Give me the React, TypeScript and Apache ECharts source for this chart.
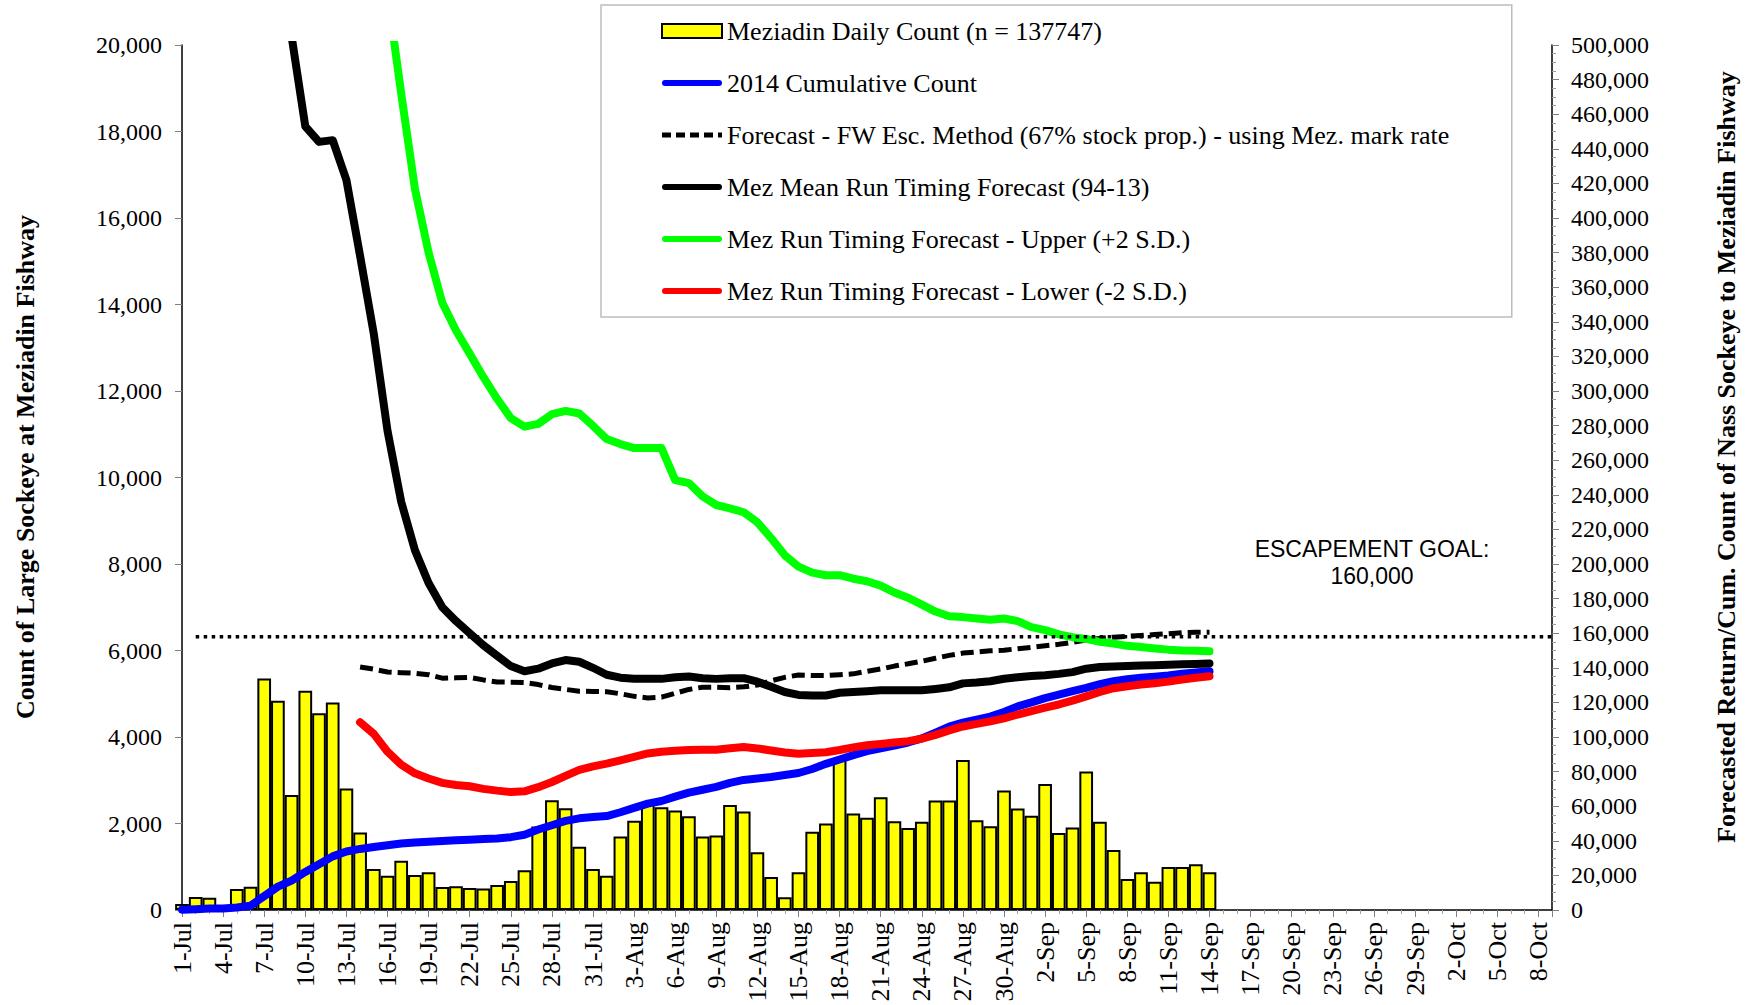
import React, { useEffect, useRef } from "react";
import * as echarts from "echarts";

// ---- x axis tick labels (every 3 days from 1-Jul; day index 0 = 1-Jul) ----
const tickLabels = [
  "1-Jul", "4-Jul", "7-Jul", "10-Jul", "13-Jul", "16-Jul", "19-Jul", "22-Jul", "25-Jul", "28-Jul", "31-Jul",
  "3-Aug", "6-Aug", "9-Aug", "12-Aug", "15-Aug", "18-Aug", "21-Aug", "24-Aug", "27-Aug", "30-Aug",
  "2-Sep", "5-Sep", "8-Sep", "11-Sep", "14-Sep", "17-Sep", "20-Sep", "23-Sep", "26-Sep", "29-Sep",
  "2-Oct", "5-Oct", "8-Oct",
];

// ---- Meziadin daily count, 1-Jul .. 14-Sep (left axis) ----
const dailyCount = [
  // Jul 1-31
  140, 300, 285, 115, 485, 540, 5350, 4840, 2660, 5070, 4550, 4800, 2810, 1790, 950, 790, 1140, 810, 870, 530,
  550, 510, 500, 580, 670, 920, 1930, 2540, 2350, 1460, 950,
  // Aug 1-31
  790, 1700, 2065, 2450, 2375, 2300, 2165, 1700, 1720, 2430, 2280, 1335, 765, 295, 870, 1810, 2000, 3485, 2230, 2135,
  2605, 2050, 1895, 2040, 2530, 2530, 3470, 2075, 1935, 2765, 2345,
  // Sep 1-14
  2180, 2915, 1780, 1910, 3205, 2040, 1385, 715, 870, 655, 995, 995, 1055, 870,
];

// ---- right-axis series, in thousands of fish ----
const cumulativeStart = 0; // 1-Jul
const cumulativeK = [
  0.2, 0.5, 0.8, 0.9, 1.4, 2.5, 8, 13.5, 17, 22, 26.5, 31, 33.8, 35.3, 36.4, 37.4, 38.4, 39, 39.5, 39.9,
  40.3, 40.6, 41, 41.3, 42.1, 43.5, 46.5, 49, 51.5, 53, 53.7,
  54.3, 56.5, 59, 61.5, 63, 65.5, 67.8, 69.5, 71.2, 73.5, 75.2, 76, 76.9, 78, 79.2, 81.5, 84.5, 87, 89.5, 91.8,
  93.5, 95, 96.8, 99.2, 102.5, 106, 108.3, 110, 111.8, 114.5, 117.7,
  120, 122.5, 124.5, 126.5, 128.4, 130.5, 132.3, 133.4, 134.2, 134.9, 135.6, 136.6, 137.3, 138,
];

const fwStart = 13; // 14-Jul
const fwForecastK = [
  140.5, 139.2, 137.6, 137.2, 136.8, 136, 134, 134.2, 134.5, 133,
  131.8, 131.7, 131.5, 130.3, 128.6, 127.5, 126.5, 126.3, 126.2, 125,
  123.5, 122.6, 123, 125.3, 127.5, 128.8, 128.7, 128.5, 129, 130,
  132.5, 134.5, 135.8, 135.5, 135.5, 136, 136.5, 138, 139.3, 141,
  142.3, 143.8, 145.5, 147.2, 148.5, 149.2, 149.8, 150.2, 151, 151.8,
  152.7, 153.6, 154.7, 156, 157, 157.7, 158.2, 158.7, 159.2, 159.7,
  160.3, 160.6, 160.6,
];

const meanStart = 8; // 9-Jul
const meanForecastK = [
  505, 453, 444, 445, 422, 378, 333, 277, 236, 208,
  189, 175, 167, 160, 153, 147, 141, 138, 139.5, 142.5,
  144.5, 143.5, 140, 136, 134.3, 133.7, 133.6, 133.6, 134.5, 135,
  134, 133.6, 134, 134, 132, 129, 126, 124.3, 124, 124,
  125.6, 126, 126.5, 127, 127, 127, 127, 127.8, 128.7, 131,
  131.5, 132.2, 133.7, 134.5, 135.2, 135.7, 136.5, 137.5, 139.5, 140.5,
  140.8, 141, 141.3, 141.5, 141.7, 142, 142.2, 142.5,
];

const upperStart = 15; // 16-Jul
const upperForecastK = [
  530, 472, 417, 380, 351, 335, 321.6, 308, 295.5, 284.3,
  279.4, 281, 286.6, 288.5, 287, 279.9, 272.2, 269.3, 267, 267,
  267, 248.5, 246.8, 239.1, 234.1, 232.2, 229.9, 224.1, 215, 205,
  198.5, 195, 193.5, 193.5, 191.5, 190, 187.5, 183.5, 180.5, 176.5,
  172.5, 169.8, 169.3, 168.5, 167.8, 168.5, 167, 163.5, 161.8, 159.3,
  157.7, 156.7, 155, 154, 152.7, 152, 151.2, 150.5, 150, 149.8, 149.5,
];

const lowerStart = 13; // 14-Jul
const lowerForecastK = [
  108.5, 101.8, 91.5, 84, 79, 76, 73.5, 72.3, 71.5, 70,
  69, 68.2, 68.6, 71, 74, 77.5, 81, 83, 84.6, 86.5,
  88.5, 90.5, 91.5, 92, 92.5, 92.6, 92.6, 93.5, 94.2, 93.4,
  92.2, 91, 90.3, 90.7, 91.2, 92.5, 94, 95.2, 96, 96.8,
  97.6, 99, 101.2, 103.8, 106.1, 107.6, 109, 110.8, 113, 115,
  117, 118.8, 121, 123.5, 126, 128.2, 129.3, 130.3, 131.1, 132,
  133.2, 134.2, 135.1,
];

// escapement goal line (as drawn) and the days it spans
const goalValue = 158000;
const goalDays = [1, 100];

const seriesNames = [
  "Meziadin Daily Count (n = 137747)",
  "2014 Cumulative Count",
  "Forecast - FW Esc. Method (67% stock prop.) - using Mez. mark rate",
  "Mez Mean Run Timing Forecast (94-13)",
  "Mez Run Timing Forecast - Upper (+2 S.D.)",
  "Mez Run Timing Forecast - Lower (-2 S.D.)",
];

const serif = "'Liberation Serif', 'Times New Roman', serif";
const sans = "'Liberation Sans', Arial, sans-serif";

// legend icons: a thick rounded stroke, and a dashed stroke
const solidIcon = "path://M3,0 H57 A3,3 0 0 1 57,6 H3 A3,3 0 0 1 3,0 Z";
const dashIcon =
  "path://M0,0.5 H9 V5.5 H0 Z M14,0.5 H23 V5.5 H14 Z M28,0.5 H37 V5.5 H28 Z M42,0.5 H51 V5.5 H42 Z M56,0.5 H60 V5.5 H56 Z";

function toPairs(start: number, arr: number[], scale: number) {
  return arr.map((v, i) => [start + i, v * scale]);
}

export default function App() {
  const ref = useRef<HTMLDivElement>(null);

  useEffect(() => {
    if (!ref.current) return;
    const chart = echarts.init(ref.current, null, { renderer: "svg" });

    const lineBase = (name: string, color: string, start: number, arr: number[], width: number, type: any, cap: string) => ({
      name,
      type: "line",
      xAxisIndex: 0,
      yAxisIndex: 1,
      data: toPairs(start, arr, 1000),
      symbol: "none",
      showSymbol: false,
      clip: true,
      emphasis: { disabled: true },
      lineStyle: { color: color, width: width, type: type, cap: cap, join: "round" },
      itemStyle: { color: color },
      z: 3,
    });

    chart.setOption({
      animation: false,
      backgroundColor: "#ffffff",
      textStyle: { fontFamily: serif },
      grid: { left: 182, right: 208, top: 45, bottom: 95, containLabel: false },
      xAxis: [
        {
          type: "value",
          min: 0,
          max: 100,
          interval: 3,
          axisLine: { show: true, onZero: false, lineStyle: { color: "#000", width: 1.5 } },
          axisTick: { show: true, length: 7, lineStyle: { color: "#808080", width: 1 } },
          minorTick: { show: true, splitNumber: 3, length: 4, lineStyle: { color: "#a0a0a0", width: 1 } },
          splitLine: { show: false },
          axisLabel: {
            rotate: 90,
            margin: 12,
            fontSize: 26,
            fontFamily: serif,
            color: "#000",
            formatter: (v: number) => (v % 3 === 0 && tickLabels[v / 3] ? tickLabels[v / 3] : ""),
          },
        },
      ],
      yAxis: [
        {
          type: "value",
          position: "left",
          min: 0,
          max: 20000,
          interval: 2000,
          axisLine: { show: true, lineStyle: { color: "#000", width: 1.5 } },
          axisTick: { show: true, length: 7, lineStyle: { color: "#808080", width: 1 } },
          splitLine: { show: false },
          axisLabel: {
            margin: 20,
            fontSize: 24,
            fontFamily: serif,
            color: "#000",
            formatter: (v: number) => v.toLocaleString("en-US"),
          },
        },
        {
          type: "value",
          position: "right",
          min: 0,
          max: 500000,
          interval: 20000,
          axisLine: { show: true, lineStyle: { color: "#000", width: 1.5 } },
          axisTick: { show: true, length: 7, lineStyle: { color: "#808080", width: 1 } },
          minorTick: { show: true, splitNumber: 4, length: 4, lineStyle: { color: "#a0a0a0", width: 1 } },
          splitLine: { show: false },
          axisLabel: {
            margin: 19,
            fontSize: 24,
            fontFamily: serif,
            color: "#000",
            formatter: (v: number) => v.toLocaleString("en-US"),
          },
        },
      ],
      legend: {
        orient: "vertical",
        left: 601,
        top: 5,
        padding: [13, 62, 13, 60],
        itemGap: 26,
        itemWidth: 60,
        itemHeight: 14,
        borderColor: "#bdbdbd",
        borderWidth: 1.5,
        backgroundColor: "#ffffff",
        selectedMode: false,
        textStyle: { fontFamily: serif, fontSize: 26, color: "#000" },
        data: [
          { name: seriesNames[0], icon: "rect", itemStyle: { color: "#FFFF00", borderColor: "#000", borderWidth: 2 } },
          { name: seriesNames[1], icon: solidIcon, itemStyle: { color: "#0000FF", borderWidth: 0 } },
          { name: seriesNames[2], icon: dashIcon, itemStyle: { color: "#000000", borderWidth: 0 } },
          { name: seriesNames[3], icon: solidIcon, itemStyle: { color: "#000000", borderWidth: 0 } },
          { name: seriesNames[4], icon: solidIcon, itemStyle: { color: "#00FF00", borderWidth: 0 } },
          { name: seriesNames[5], icon: solidIcon, itemStyle: { color: "#FF0000", borderWidth: 0 } },
        ],
      },
      graphic: [
        {
          type: "text",
          x: 25,
          y: 467,
          rotation: Math.PI / 2,
          style: {
            text: "Count of Large Sockeye at Meziadin Fishway",
            fontSize: 26,
            fontWeight: "bold",
            fontFamily: serif,
            fill: "#000",
            textAlign: "center",
            textVerticalAlign: "middle",
          },
        },
        {
          type: "text",
          x: 1726,
          y: 457,
          rotation: Math.PI / 2,
          style: {
            text: "Forecasted Return/Cum. Count of Nass Sockeye to Meziadin Fishway",
            fontSize: 26,
            fontWeight: "bold",
            fontFamily: serif,
            fill: "#000",
            textAlign: "center",
            textVerticalAlign: "middle",
          },
        },
        {
          type: "text",
          x: 1372,
          y: 549,
          style: {
            text: "ESCAPEMENT GOAL:",
            fontSize: 23,
            fontFamily: sans,
            fill: "#000",
            textAlign: "center",
            textVerticalAlign: "middle",
          },
        },
        {
          type: "text",
          x: 1372,
          y: 576,
          style: {
            text: "160,000",
            fontSize: 23,
            fontFamily: sans,
            fill: "#000",
            textAlign: "center",
            textVerticalAlign: "middle",
          },
        },
      ],
      series: [
        {
          name: seriesNames[0],
          type: "bar",
          xAxisIndex: 0,
          yAxisIndex: 0,
          data: dailyCount.map((v, i) => [i, v]),
          barWidth: 13.7,
          clip: true,
          emphasis: { disabled: true },
          itemStyle: { color: "#FFFF00", borderColor: "#000", borderWidth: 2 },
          z: 2,
        },
        lineBase(seriesNames[1], "#0000FF", cumulativeStart, cumulativeK, 8, "solid", "round"),
        lineBase(seriesNames[2], "#000000", fwStart, fwForecastK, 5, [13, 6], "butt"),
        lineBase(seriesNames[3], "#000000", meanStart, meanForecastK, 8, "solid", "round"),
        lineBase(seriesNames[4], "#00FF00", upperStart, upperForecastK, 8, "solid", "round"),
        lineBase(seriesNames[5], "#FF0000", lowerStart, lowerForecastK, 8, "solid", "round"),
        {
          name: "Escapement goal",
          type: "line",
          xAxisIndex: 0,
          yAxisIndex: 1,
          data: goalDays.map((d) => [d, goalValue]),
          symbol: "none",
          clip: true,
          silent: true,
          lineStyle: { color: "#000", width: 3.5, type: [3.5, 4.5], cap: "butt" },
          z: 3,
        },
      ],
    });

    return () => chart.dispose();
  }, []);

  return (
    <div
      ref={ref}
      style={{ position: "absolute", left: 0, top: 0, width: 1760, height: 1005, background: "#fff" }}
    />
  );
}
